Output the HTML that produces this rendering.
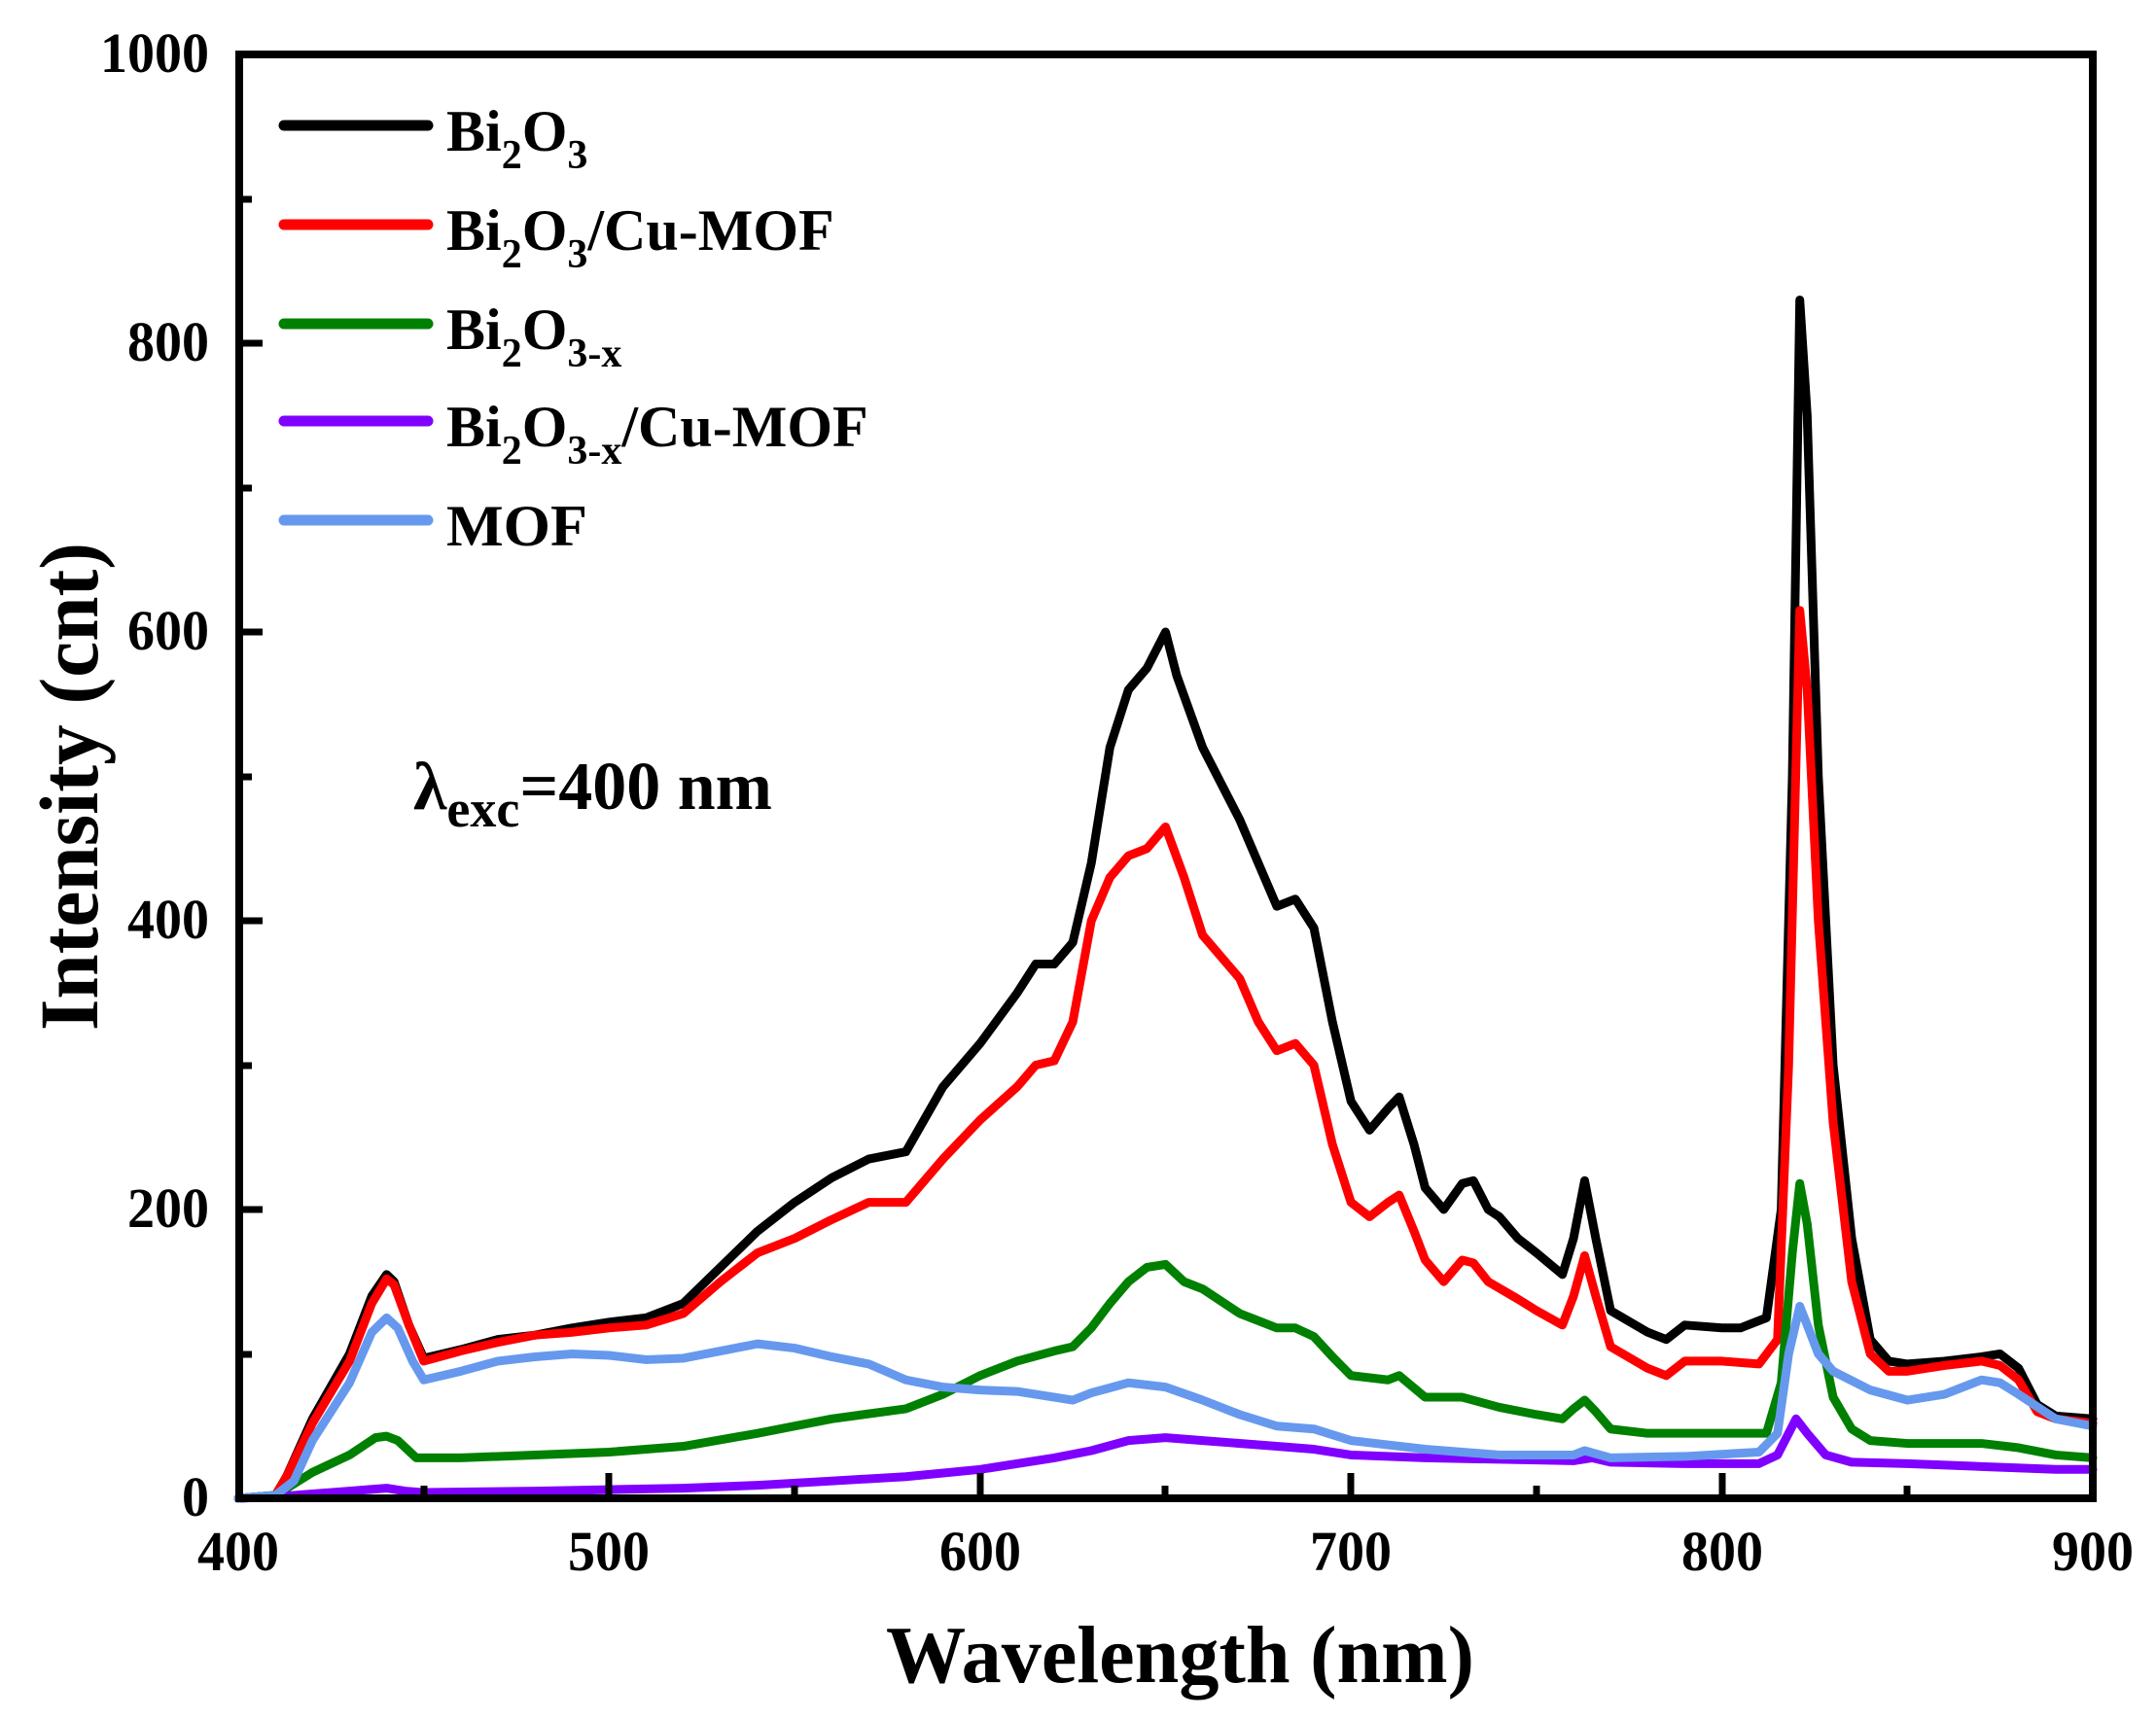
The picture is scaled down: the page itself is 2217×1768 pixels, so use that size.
<!DOCTYPE html>
<html><head><meta charset="utf-8"><style>
html,body{margin:0;padding:0;background:#fff;}
svg{display:block;}
text{font-family:"Liberation Serif",serif;font-weight:bold;fill:#000;}
</style></head><body>
<svg width="2217" height="1768" viewBox="0 0 2217 1768" xmlns="http://www.w3.org/2000/svg">
<g transform="translate(245,1541) scale(3.814,-1.485) translate(-400,0)" fill="none" stroke-linejoin="round" stroke-linecap="round">
<polyline vector-effect="non-scaling-stroke" stroke="#000" stroke-width="9" points="400,0 410,2 413,15 420,55 430,100 436,140 440,155 442,150 446,120 450,97 460,103 470,110 480,113 490,118 500,122 510,125 520,135 530,160 540,185 550,205 560,222 570,235 580,240 590,285 600,315 610,350 615,370 620,370 625,385 630,440 635,520 640,560 645,575 650,600 653,570 660,520 665,495 670,470 675,440 680,410 685,415 690,395 695,330 700,275 705,255 710,270 713,278 717,245 720,215 725,200 730,218 733,220 737,200 740,195 745,180 750,170 757,155 760,180 763,220 766,180 770,130 780,115 785,110 790,120 800,118 805,118 812,125 816,200 819,500 821,830 823,750 826,500 830,300 835,180 840,110 845,95 850,93 860,95 870,98 875,100 880,90 885,65 890,57 900,55"/>
<polyline vector-effect="non-scaling-stroke" stroke="#ff0000" stroke-width="9" points="400,0 410,2 413,15 420,52 430,95 436,135 440,152 442,148 446,120 450,95 460,102 470,108 480,113 490,115 500,118 510,120 520,128 530,150 540,170 550,180 560,193 570,205 580,205 590,235 600,262 610,285 615,300 620,303 625,330 630,400 635,430 640,445 645,450 650,465 655,430 660,390 665,375 670,360 675,330 680,310 685,315 690,300 695,245 700,205 705,195 710,205 713,210 717,185 720,165 725,150 730,165 733,163 737,150 745,138 750,130 757,120 760,140 763,168 766,140 770,105 780,90 785,85 790,95 800,95 810,93 815,110 818,300 821,615 823,560 826,400 830,260 835,150 840,100 845,88 850,88 860,92 870,95 875,92 880,82 885,60 890,55 900,52"/>
<polyline vector-effect="non-scaling-stroke" stroke="#008000" stroke-width="9" points="400,0 410,2 415,10 420,18 430,30 437,42 440,43 443,40 448,28 460,28 480,30 500,32 520,36 540,45 560,55 580,62 590,72 600,85 610,95 620,102 625,105 630,118 635,135 640,150 645,160 650,162 655,150 660,145 670,128 680,118 685,118 690,112 695,98 700,85 710,82 713,85 720,70 730,70 740,63 750,58 757,55 760,62 763,68 766,60 770,48 780,45 800,45 812,45 816,80 819,170 821,218 823,190 826,120 830,70 835,48 840,40 850,38 860,38 870,38 880,35 890,30 900,28"/>
<polyline vector-effect="non-scaling-stroke" stroke="#8000ff" stroke-width="9" points="400,0 410,1 420,3 430,5 440,7 445,5 450,4 480,5 500,6 520,7 540,9 560,12 580,15 600,20 620,28 630,33 640,40 650,42 660,40 680,36 690,34 700,30 720,28 740,27 760,26 765,28 770,25 790,24 810,24 815,30 818,45 820,55 823,45 828,30 835,25 850,24 870,22 890,20 900,20"/>
<polyline vector-effect="non-scaling-stroke" stroke="#6699ee" stroke-width="9" points="400,0 410,2 415,12 420,40 430,80 436,115 440,125 443,118 447,95 450,82 460,88 470,95 480,98 490,100 500,99 510,96 520,97 530,102 540,107 550,104 560,98 570,93 580,82 590,77 600,75 610,74 620,70 625,68 630,73 640,80 650,77 660,68 670,58 680,50 690,48 700,40 710,37 720,34 730,32 740,30 760,30 763,33 770,28 790,29 810,32 815,45 818,100 821,133 823,120 826,100 830,88 840,75 850,68 860,72 870,82 875,80 880,72 890,55 900,50"/>
</g>
<rect x="246" y="56" width="1906" height="1485" fill="none" stroke="#000" stroke-width="8"/>
<g stroke="#000" stroke-width="7">
<line x1="626" y1="1541" x2="626" y2="1515"/><line x1="1008" y1="1541" x2="1008" y2="1515"/><line x1="1389" y1="1541" x2="1389" y2="1515"/><line x1="1771" y1="1541" x2="1771" y2="1515"/>
<line x1="436" y1="1541" x2="436" y2="1528"/><line x1="817" y1="1541" x2="817" y2="1528"/><line x1="1198" y1="1541" x2="1198" y2="1528"/><line x1="1580" y1="1541" x2="1580" y2="1528"/><line x1="1961" y1="1541" x2="1961" y2="1528"/>
<line x1="246" y1="1244" x2="270" y2="1244"/><line x1="246" y1="947" x2="270" y2="947"/><line x1="246" y1="650" x2="270" y2="650"/><line x1="246" y1="353" x2="270" y2="353"/>
<line x1="246" y1="1393" x2="259" y2="1393"/><line x1="246" y1="1096" x2="259" y2="1096"/><line x1="246" y1="799" x2="259" y2="799"/><line x1="246" y1="502" x2="259" y2="502"/><line x1="246" y1="205" x2="259" y2="205"/>
</g>
<g font-size="58" text-anchor="middle">
<text x="245" y="1615" textLength="84" lengthAdjust="spacingAndGlyphs">400</text>
<text x="626" y="1615" textLength="84" lengthAdjust="spacingAndGlyphs">500</text>
<text x="1008" y="1615" textLength="84" lengthAdjust="spacingAndGlyphs">600</text>
<text x="1389" y="1615" textLength="84" lengthAdjust="spacingAndGlyphs">700</text>
<text x="1771" y="1615" textLength="84" lengthAdjust="spacingAndGlyphs">800</text>
<text x="2152" y="1615" textLength="84" lengthAdjust="spacingAndGlyphs">900</text>
</g>
<g font-size="58" text-anchor="end">
<text x="215" y="1559" textLength="28" lengthAdjust="spacingAndGlyphs">0</text>
<text x="215" y="1262" textLength="84" lengthAdjust="spacingAndGlyphs">200</text>
<text x="215" y="965" textLength="84" lengthAdjust="spacingAndGlyphs">400</text>
<text x="215" y="668" textLength="84" lengthAdjust="spacingAndGlyphs">600</text>
<text x="215" y="371" textLength="84" lengthAdjust="spacingAndGlyphs">800</text>
<text x="215" y="74" textLength="112" lengthAdjust="spacingAndGlyphs">1000</text>
</g>
<text x="911" y="1730" font-size="84" textLength="605" lengthAdjust="spacingAndGlyphs">Wavelength (nm)</text>
<text transform="translate(100,1060) rotate(-90)" font-size="86" textLength="502" lengthAdjust="spacingAndGlyphs">Intensity (cnt)</text>
<text x="425" y="832" font-size="70">λ<tspan font-size="54" dy="18">exc</tspan><tspan dy="-18">=400 nm</tspan></text>
<g stroke-width="11" stroke-linecap="round">
<line x1="292" y1="129" x2="440" y2="129" stroke="#000"/>
<line x1="292" y1="231" x2="440" y2="231" stroke="#ff0000"/>
<line x1="292" y1="333" x2="440" y2="333" stroke="#008000"/>
<line x1="292" y1="433" x2="440" y2="433" stroke="#8000ff"/>
<line x1="292" y1="535" x2="440" y2="535" stroke="#6699ee"/>
</g>
<g font-size="60">
<text x="459" y="155">Bi<tspan font-size="42" dy="18">2</tspan><tspan dy="-18">O</tspan><tspan font-size="42" dy="18">3</tspan></text>
<text x="459" y="257">Bi<tspan font-size="42" dy="18">2</tspan><tspan dy="-18">O</tspan><tspan font-size="42" dy="18">3</tspan><tspan dy="-18">/Cu-MOF</tspan></text>
<text x="459" y="359">Bi<tspan font-size="42" dy="18">2</tspan><tspan dy="-18">O</tspan><tspan font-size="42" dy="18">3-x</tspan></text>
<text x="459" y="459">Bi<tspan font-size="42" dy="18">2</tspan><tspan dy="-18">O</tspan><tspan font-size="42" dy="18">3-x</tspan><tspan dy="-18">/Cu-MOF</tspan></text>
<text x="459" y="561" textLength="145" lengthAdjust="spacingAndGlyphs">MOF</text>
</g>
</svg>
</body></html>
